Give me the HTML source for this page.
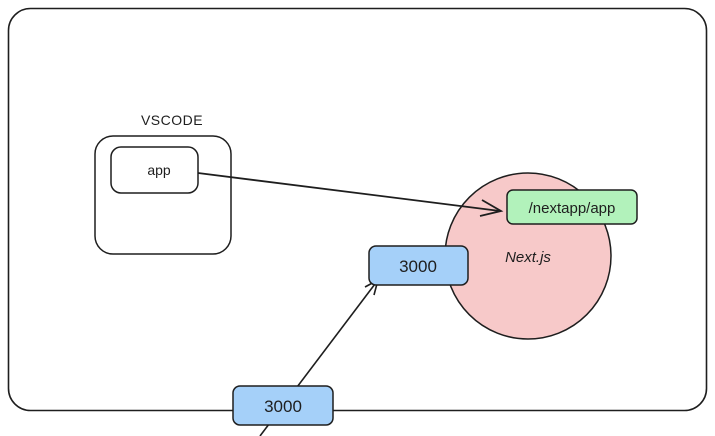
<!DOCTYPE html>
<html><head><meta charset="utf-8"><style>
html,body{margin:0;padding:0;background:#fff;}
svg{display:block;}
text{font-family:"Liberation Sans",sans-serif;fill:#1e1e1e;}
</style></head><body>
<svg width="715" height="436" viewBox="0 0 715 436" xmlns="http://www.w3.org/2000/svg">
<rect x="8.5" y="8.5" width="698" height="402" rx="22" fill="#fff" stroke="#1e1e1e" stroke-width="1.6"/>
<text x="172" y="125" font-size="14" text-anchor="middle" letter-spacing="0.5">VSCODE</text>
<rect x="95" y="136" width="136" height="118" rx="18" fill="#fff" stroke="#1e1e1e" stroke-width="1.5"/>
<rect x="111" y="147" width="87" height="46" rx="10" fill="#fff" stroke="#1e1e1e" stroke-width="1.5"/>
<text x="159" y="175" font-size="14" text-anchor="middle">app</text>
<circle cx="528" cy="256" r="83" fill="#f7c9c9" stroke="#1e1e1e" stroke-width="1.5"/>
<text x="528" y="262" font-size="15" text-anchor="middle" font-style="italic">Next.js</text>
<line x1="198" y1="173" x2="500" y2="211" stroke="#1e1e1e" stroke-width="1.8"/>
<polyline points="482,200 501,211 480,216" fill="none" stroke="#1e1e1e" stroke-width="1.8"/>
<rect x="507" y="190" width="130" height="34" rx="6" fill="#b2f2bb" stroke="#1e1e1e" stroke-width="1.5"/>
<text x="572" y="213" font-size="15" text-anchor="middle">/nextapp/app</text>
<line x1="260" y1="436" x2="378" y2="280" stroke="#1e1e1e" stroke-width="1.6"/>
<polyline points="365,287 378,280 374,295" fill="none" stroke="#1e1e1e" stroke-width="1.6"/>
<rect x="369" y="246" width="99" height="39" rx="7" fill="#a5d0f9" stroke="#1e1e1e" stroke-width="1.5"/>
<text x="418" y="272" font-size="17" text-anchor="middle">3000</text>
<rect x="233" y="386" width="100" height="39" rx="7" fill="#a5d0f9" stroke="#1e1e1e" stroke-width="1.5"/>
<text x="283" y="412" font-size="17" text-anchor="middle">3000</text>
</svg>
</body></html>
